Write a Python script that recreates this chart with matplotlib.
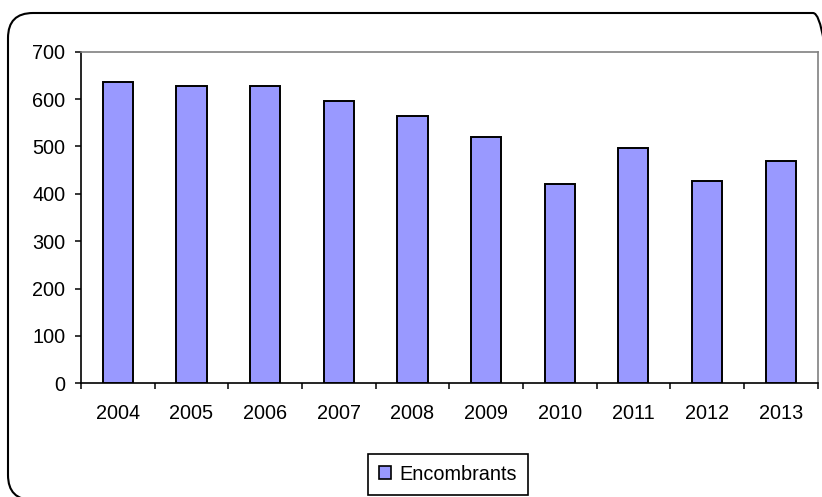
import matplotlib
matplotlib.use("Agg")
import matplotlib.pyplot as plt
from matplotlib.patches import FancyBboxPatch, Patch
from matplotlib.transforms import IdentityTransform
import numpy as np

plt.rcParams['font.family'] = ['Liberation Sans', 'DejaVu Sans']

years = ["2004", "2005", "2006", "2007", "2008", "2009", "2010", "2011", "2012", "2013"]
encombrants = [635, 628, 628, 596, 564, 520, 420, 496, 428, 469]
series_name = "Encombrants"
y_ticks = [0, 100, 200, 300, 400, 500, 600, 700]

W, H, DPI = 822, 497, 100
fig = plt.figure(figsize=(W / DPI, H / DPI), dpi=DPI)
fig.patch.set_facecolor("white")

# plot area in pixel coordinates
left, right, top, bottom = 81, 817.5, 51.7, 383.3
ax = fig.add_axes([left / W, 1 - bottom / H, (right - left) / W, (bottom - top) / H])

x = np.arange(len(years))
ax.bar(x, encombrants, width=0.41, color="#9999FF", edgecolor="black", linewidth=1.4, zorder=3)

ax.set_xlim(-0.5, len(years) - 0.5)
ax.set_ylim(0, 700)
ax.set_yticks(y_ticks)
ax.set_xticks(x)
ax.set_xticklabels(years)
ax.set_xticks(np.arange(-0.5, len(years)), minor=True)

ax.tick_params(axis="y", which="major", direction="out", length=4.3, width=1.1,
               labelsize=14.3, pad=7, color="black")
ax.tick_params(axis="x", which="major", length=0, labelsize=14.3, pad=15)
ax.tick_params(axis="x", which="minor", direction="out", length=4.3, width=1.1, color="black")

for side in ("left", "bottom"):
    ax.spines[side].set_color("black")
    ax.spines[side].set_linewidth(1.2)
for side in ("top", "right"):
    ax.spines[side].set_color("#808080")
    ax.spines[side].set_linewidth(1.2)
ax.set_facecolor("white")

# legend below the plot area
handle = Patch(facecolor="#9999FF", edgecolor="black", linewidth=1.2)
leg = fig.legend([handle], [series_name], loc="center",
                 bbox_to_anchor=(447.9 / W, 1 - 474.3 / H), bbox_transform=fig.transFigure,
                 fontsize=14.3, handlelength=0.62, handleheight=0.62, handletextpad=0.45,
                 borderpad=0.55, fancybox=False, edgecolor="black", framealpha=1)
leg.get_frame().set_linewidth(1.2)

# rounded chart border
border = FancyBboxPatch((8, H - 500), 838 - 8, 500 - 13,
                        boxstyle="round,pad=0,rounding_size=25",
                        transform=IdentityTransform(), facecolor="none",
                        edgecolor="black", linewidth=1.5)
fig.patches.append(border)

fig.savefig("out.png", dpi=DPI)
